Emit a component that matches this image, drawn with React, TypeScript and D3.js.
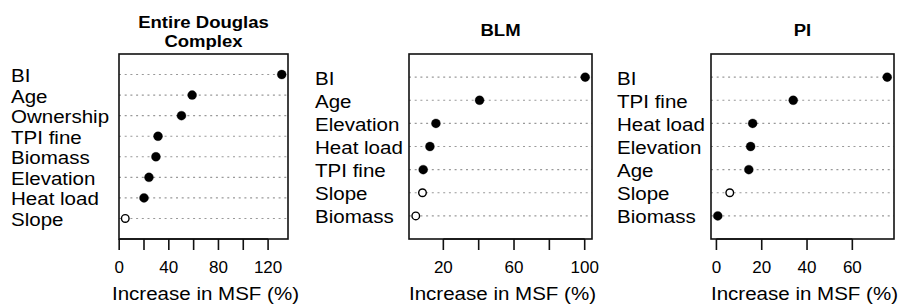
import React, { useEffect, useRef } from 'react';
import * as d3 from 'd3';

// Entire Douglas Complex
const douglasLabels = ['BI', 'Age', 'Ownership', 'TPI fine', 'Biomass', 'Elevation', 'Heat load', 'Slope'];
const douglasValues = [131, 58.8, 50.2, 31.3, 29.6, 24, 20, 4.9];
const douglasSignif = [true, true, true, true, true, true, true, false];
const douglasTicks = [0, 20, 40, 60, 80, 100, 120];
const douglasTickLabels = [0, 40, 80, 120];

// BLM
const blmLabels = ['BI', 'Age', 'Elevation', 'Heat load', 'TPI fine', 'Slope', 'Biomass'];
const blmValues = [100.3, 40.5, 15.8, 12.4, 8.6, 8.2, 4.4];
const blmSignif = [true, true, true, true, true, false, false];
const blmTicks = [20, 40, 60, 80, 100];
const blmTickLabels = [20, 60, 100];

// PI
const piLabels = ['BI', 'TPI fine', 'Heat load', 'Elevation', 'Age', 'Slope', 'Biomass'];
const piValues = [75.4, 33.9, 16, 15.1, 14.3, 5.9, 0.6];
const piSignif = [true, true, true, true, true, false, true];
const piTicks = [0, 20, 40, 60];
const piTickLabels = [0, 20, 40, 60];

const FONT = '"Liberation Sans", Arial, Helvetica, sans-serif';

const panels = [
  { title: ['Entire Douglas', 'Complex'], labels: douglasLabels, values: douglasValues, signif: douglasSignif, ticks: douglasTicks, tickLabels: douglasTickLabels, left: 119, right: 288, labelX: 11 },
  { title: ['BLM'], labels: blmLabels, values: blmValues, signif: blmSignif, ticks: blmTicks, tickLabels: blmTickLabels, left: 409, right: 592, labelX: 315 },
  { title: ['PI'], labels: piLabels, values: piValues, signif: piSignif, ticks: piTicks, tickLabels: piTickLabels, left: 711, right: 894, labelX: 617 },
];

const W = 899;
const H = 306;
const boxTop = 54;
const boxBottom = 239;
const labelSize = 18.5;
const labelStretch = 1.11; // the source text is a little wider than plain Arial

export default function App() {
  const ref = useRef<SVGSVGElement>(null);

  useEffect(() => {
    const svg = d3.select(ref.current);
    svg.selectAll('*').remove();

    panels.forEach((p) => {
      const g = svg.append('g');
      const n = p.values.length;

      // R style 4% extension of the data range
      const [lo, hi] = d3.extent(p.values) as [number, number];
      const ext = (hi - lo) * 0.04;
      const x = d3.scaleLinear().domain([lo - ext, hi + ext]).range([p.left, p.right]);
      const y = d3.scaleLinear().domain([0, n + 1]).range([boxBottom, boxTop]);
      const rowY = (i: number) => y(n - i);
      const cx = (p.left + p.right) / 2;

      // title
      const titleBase = p.title.length > 1 ? 27.8 : 36;
      p.title.forEach((t, i) => {
        g.append('text')
          .attr('transform', `translate(${cx},${titleBase + i * 19}) scale(1.09,1)`)
          .attr('text-anchor', 'middle')
          .attr('font-family', FONT)
          .attr('font-weight', 'bold')
          .attr('font-size', 17)
          .text(t);
      });

      // dotted guide lines
      g.append('g')
        .selectAll('line')
        .data(p.values)
        .join('line')
        .attr('x1', p.left)
        .attr('x2', p.right)
        .attr('y1', (_, i) => rowY(i))
        .attr('y2', (_, i) => rowY(i))
        .attr('stroke', '#999')
        .attr('stroke-width', 1.1)
        .attr('stroke-dasharray', '2,3.7');

      // box
      g.append('rect')
        .attr('x', p.left)
        .attr('y', boxTop)
        .attr('width', p.right - p.left)
        .attr('height', boxBottom - boxTop)
        .attr('fill', 'none')
        .attr('stroke', '#111')
        .attr('stroke-width', 1.6);

      // points
      g.append('g')
        .selectAll('circle')
        .data(p.values)
        .join('circle')
        .attr('cx', (d) => x(d))
        .attr('cy', (_, i) => rowY(i))
        .attr('r', (_, i) => (p.signif[i] ? 4.5 : 3.8))
        .attr('fill', (_, i) => (p.signif[i] ? '#000' : '#fff'))
        .attr('stroke', '#000')
        .attr('stroke-width', (_, i) => (p.signif[i] ? 0.3 : 1.4));

      // labels
      g.append('g')
        .selectAll('text')
        .data(p.labels)
        .join('text')
        .attr('transform', (_, i) => `translate(${p.labelX},${rowY(i) + 7.5}) scale(${labelStretch},1)`)
        .attr('font-family', FONT)
        .attr('font-size', labelSize)
        .attr('fill', '#000')
        .text((d) => d);

      // x axis
      const t0 = p.ticks[0];
      const t1 = p.ticks[p.ticks.length - 1];
      g.append('line')
        .attr('x1', x(t0))
        .attr('x2', x(t1))
        .attr('y1', boxBottom)
        .attr('y2', boxBottom)
        .attr('stroke', '#111')
        .attr('stroke-width', 1.6);
      g.append('g')
        .selectAll('line')
        .data(p.ticks)
        .join('line')
        .attr('x1', (d) => x(d))
        .attr('x2', (d) => x(d))
        .attr('y1', boxBottom)
        .attr('y2', boxBottom + 11)
        .attr('stroke', '#111')
        .attr('stroke-width', 1.6);
      g.append('g')
        .selectAll('text')
        .data(p.tickLabels)
        .join('text')
        .attr('x', (d) => x(d))
        .attr('y', 273)
        .attr('text-anchor', 'middle')
        .attr('font-family', FONT)
        .attr('font-size', 17)
        .attr('fill', '#000')
        .text((d) => String(d));

      g.append('text')
        .attr('transform', `translate(${cx + 2},300) scale(${labelStretch},1)`)
        .attr('text-anchor', 'middle')
        .attr('font-family', FONT)
        .attr('font-size', labelSize)
        .attr('fill', '#000')
        .text('Increase in MSF (%)');
    });
  }, []);

  return (
    <svg
      ref={ref}
      width={W}
      height={H}
      style={{ position: 'absolute', left: 0, top: 0, background: '#fff', display: 'block' }}
    />
  );
}
